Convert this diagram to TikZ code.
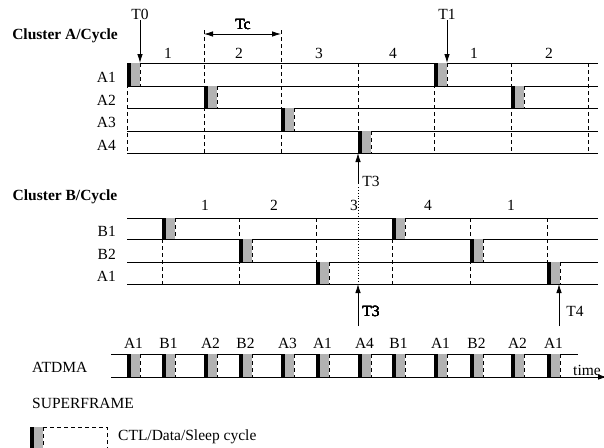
\documentclass[tikz,border=0pt]{standalone}
\usepackage{fontspec}
\setmainfont{Liberation Serif}
\usetikzlibrary{shapes,arrows,arrows.meta,calc}
\definecolor{slotgray}{gray}{0.7}
\tikzstyle{line} = [draw, line width=0.85pt, -{Latex[length=9pt,width=5.5pt]}]
\tikzstyle{twoway} = [draw, line width=0.85pt, {Latex[length=9pt,width=5.5pt]}-{Latex[length=9pt,width=5.5pt]}]
\tikzstyle{row} = [draw, line width=0.85pt]
\tikzstyle{bound} = [draw, line width=0.85pt, dash pattern=on 4pt off 3pt]
\tikzstyle{title} = [font=\fontsize{15.5}{18}\selectfont\bfseries]
\newcommand{\cycleslot}[3]{%
  \fill[slotgray] (#1,#2) rectangle (#1+13,#3);
  \draw[line width=3.5pt] (#1+1.75,#2) -- (#1+1.75,#3);
  \draw[bound] (#1+13,#2) -- (#1+13,#3);
}

\begin{document}
\begin{tikzpicture}[x=1pt, y=-1pt, every node/.style={inner sep=1pt, font=\fontsize{15.5}{18}\selectfont}]
        \useasboundingbox (0,0) rectangle (604,447);
        % cluster A
        \node[title] (clustera) at (65,36) {Cluster A/Cycle};
        \foreach \y [count=\i] in {74,97,119,142}
            \node[anchor=east] (rowa\i) at (117,\y+3) {A\i};
        \foreach \y in {63,86,108,131,153}
            \draw[row] (127,\y) -- (598,\y);
        \foreach \x in {127,358,434,511,588}
            \draw[bound] (\x,63) -- (\x,153);
        \draw[bound] (204,30) -- (204,153);
        \draw[bound] (281,30) -- (281,153);
        \foreach \x/\n in {168/1,239/2,319/3,393/4,474/1,549/2}
            \node (cyca\x) at (\x,53) {\n};
        \foreach \x/\a/\b in {127/63/86,204/86/108,281/108/131,358/131/153,434/63/86,511/86/108}
            \cycleslot{\x}{\a}{\b}
        \node (tc) at (243,25) {Tc};
        \coordinate (tcl) at (204,34);
        \coordinate (tcr) at (281,34);
        \path[twoway] (tcl) -- (tcr);
        \node (t0) at (140,14) {T0};
        \coordinate (t0end) at (140,63);
        \path[line] (t0) -- (t0end);
        \node (t1) at (447,14) {T1};
        \coordinate (t1end) at (447,63);
        \path[line] (t1) -- (t1end);
        \node (t3a) at (371,181) {T3};
        \coordinate (t3afoot) at (358,184);
        \coordinate (t3ahead) at (358,153);
        \path[line] (t3afoot) -- (t3ahead);
        % cluster B
        \node[title] (clusterb) at (65,197) {Cluster B/Cycle};
        \node[anchor=east] (rowb1) at (117,231) {B1};
        \node[anchor=east] (rowb2) at (117,254) {B2};
        \node[anchor=east] (rowb3) at (117,276) {A1};
        \foreach \y in {218,239,262,284}
            \draw[row] (127,\y) -- (598,\y);
        \foreach \x in {162,239,316,392,470,547}
            \draw[bound] (\x,218) -- (\x,284);
        \draw[line width=0.85pt, dotted] (358,187) -- (358,284);
        \foreach \x/\n in {205/1,274/2,354/3,428/4,511/1}
            \node (cycb\x) at (\x,205) {\n};
        \foreach \x/\a/\b in {162/218/239,239/239/262,316/262/284,392/218/239,470/239/262,547/262/284}
            \cycleslot{\x}{\a}{\b}
        \node (t3b) at (371,311) {T3};
        \coordinate (t3bfoot) at (358,326);
        \coordinate (t3bhead) at (358,284);
        \path[line] (t3bfoot) -- (t3bhead);
        \node (t4) at (575,311) {T4};
        \coordinate (t4foot) at (559,326);
        \coordinate (t4head) at (559,284);
        \path[line] (t4foot) -- (t4head);
        % superframe
        \node[anchor=west] (atdma) at (31,367) {ATDMA};
        \node[anchor=west] (superframe) at (31,403) {SUPERFRAME};
        \draw[row] (111,354) -- (578,354);
        \coordinate (timestart) at (111,377);
        \coordinate (timeend) at (607,377);
        \path[line] (timestart) -- (timeend);
        \node[anchor=base] (time) at (587,375) {time};
        \foreach \x/\s in {127/A1,162/B1,204/A2,239/B2,281/A3,316/A1,358/A4,392/B1,434/A1,470/B2,511/A2,547/A1} {
            \cycleslot{\x}{354}{377}
            \node (slot\x) at (\x+6.5,343) {\s};
        }
        % legend
        \cycleslot{30}{427}{450}
        \draw[bound] (43,427) -- (107,427) -- (107,450);
        \node[anchor=west] (legend) at (117,437) {CTL/Data/Sleep cycle};
\end{tikzpicture}
\end{document}
